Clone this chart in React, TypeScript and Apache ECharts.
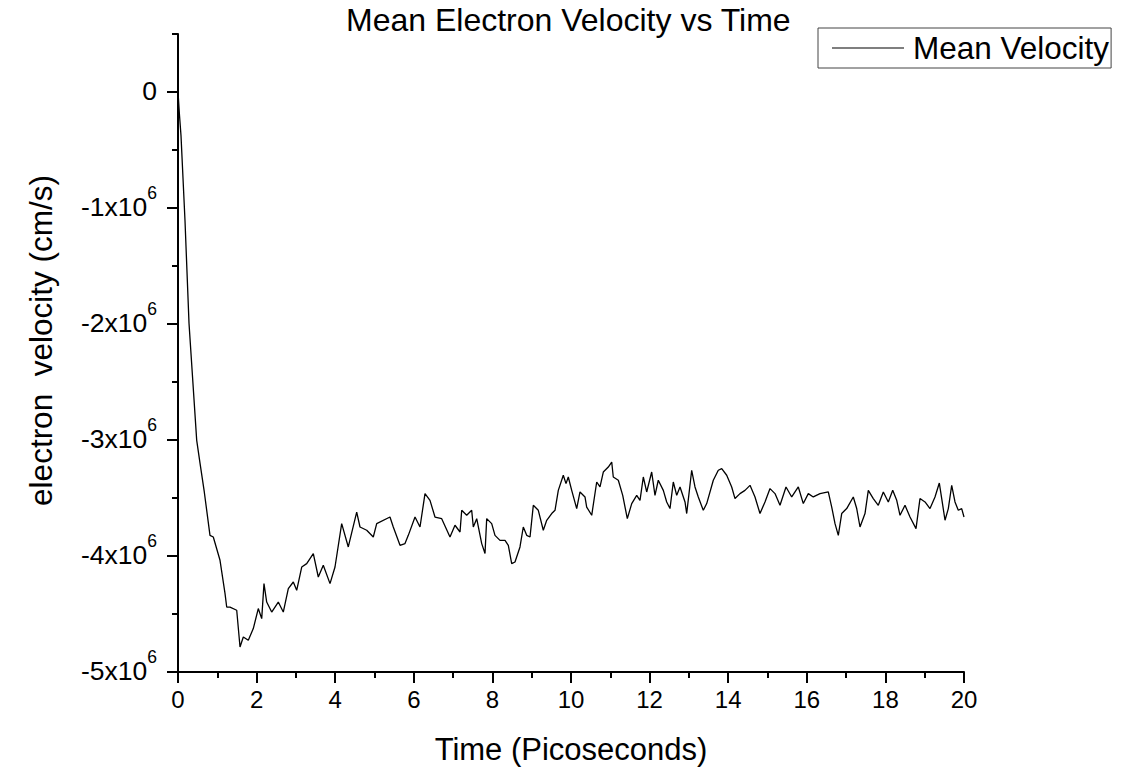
import React, { useEffect, useRef } from "react";
import * as echarts from "echarts";

// Time in picoseconds
const timePs = [
  0, 0.038, 0.076, 0.178, 0.28, 0.476, 0.56, 0.669, 0.814, 0.898, 1.069, 1.196, 1.239, 1.323, 1.494,
  1.578, 1.662, 1.789, 1.916, 2.043, 2.13, 2.188, 2.257, 2.384, 2.552, 2.679, 2.807, 2.934, 3.02,
  3.148, 3.275, 3.443, 3.57, 3.697, 3.868, 3.995, 4.165, 4.333, 4.547, 4.631, 4.802, 4.969, 5.056,
  5.394, 5.478, 5.649, 5.776, 5.86, 6.031, 6.158, 6.285, 6.412, 6.539, 6.71, 6.921, 7.048, 7.176,
  7.219, 7.346, 7.473, 7.514, 7.601, 7.728, 7.812, 7.855, 7.982, 8.066, 8.193, 8.321, 8.405, 8.491,
  8.575, 8.702, 8.786, 8.873, 8.957, 9.041, 9.168, 9.295, 9.382, 9.509, 9.593, 9.677, 9.804, 9.873,
  9.931, 10.018, 10.145, 10.229, 10.356, 10.399, 10.527, 10.654, 10.738, 10.822, 10.949, 11.036,
  11.076, 11.204, 11.316, 11.433, 11.545, 11.672, 11.756, 11.84, 11.926, 12.053, 12.137, 12.221,
  12.349, 12.435, 12.519, 12.603, 12.69, 12.774, 12.901, 12.944, 13.071, 13.155, 13.239, 13.366,
  13.453, 13.621, 13.748, 13.835, 13.962, 14.089, 14.173, 14.3, 14.427, 14.555, 14.682, 14.809,
  14.936, 15.064, 15.191, 15.318, 15.471, 15.616, 15.784, 15.911, 16.038, 16.165, 16.336, 16.547,
  16.634, 16.718, 16.802, 16.888, 17.015, 17.183, 17.27, 17.354, 17.481, 17.565, 17.692, 17.819,
  17.947, 18.074, 18.186, 18.288, 18.372, 18.499, 18.626, 18.779, 18.88, 19.008, 19.135, 19.262,
  19.372, 19.433, 19.517, 19.601, 19.687, 19.771, 19.855, 19.941, 20.0,
];

// Mean electron velocity, in units of 10^6 cm/s
const meanVelocityE6 = [
  0, -0.2, -0.374, -1.108, -1.993, -3.003, -3.2, -3.448, -3.822, -3.836, -4.037, -4.322, -4.44, -4.44,
  -4.468, -4.784, -4.698, -4.727, -4.626, -4.453, -4.54, -4.238, -4.397, -4.483, -4.397, -4.483,
  -4.281, -4.224, -4.296, -4.095, -4.066, -3.979, -4.181, -4.08, -4.238, -4.095, -3.721, -3.922,
  -3.621, -3.75, -3.778, -3.836, -3.721, -3.664, -3.75, -3.908, -3.893, -3.822, -3.664, -3.75,
  -3.462, -3.52, -3.664, -3.678, -3.836, -3.735, -3.793, -3.606, -3.649, -3.606, -3.75, -3.678,
  -3.893, -3.979, -3.678, -3.721, -3.822, -3.865, -3.865, -3.908, -4.066, -4.052, -3.922, -3.75,
  -3.822, -3.836, -3.563, -3.606, -3.778, -3.692, -3.634, -3.606, -3.434, -3.304, -3.376, -3.319,
  -3.434, -3.591, -3.448, -3.491, -3.578, -3.649, -3.362, -3.405, -3.276, -3.233, -3.19, -3.319,
  -3.347, -3.477, -3.678, -3.548, -3.477, -3.52, -3.319, -3.448, -3.276, -3.477, -3.347, -3.434,
  -3.534, -3.591, -3.362, -3.477, -3.405, -3.534, -3.634, -3.261, -3.405, -3.491, -3.606, -3.548,
  -3.347, -3.261, -3.247, -3.304, -3.405, -3.505, -3.462, -3.434, -3.391, -3.491, -3.634, -3.534,
  -3.419, -3.462, -3.563, -3.405, -3.491, -3.405, -3.548, -3.462, -3.491, -3.462, -3.448, -3.578,
  -3.721, -3.822, -3.634, -3.591, -3.491, -3.591, -3.75, -3.634, -3.434, -3.505, -3.563, -3.448,
  -3.534, -3.434, -3.52, -3.649, -3.563, -3.664, -3.764, -3.505, -3.534, -3.591, -3.491, -3.371,
  -3.505, -3.692, -3.591, -3.391, -3.534, -3.606, -3.591, -3.664,
];

const yMajorTicks = [-5e6, -4e6, -3e6, -2e6, -1e6, 0];
const yMinorTicks = [-4.5e6, -3.5e6, -2.5e6, -1.5e6, -0.5e6, 0.5e6];

const TITLE = "Mean Electron Velocity vs Time";
const SERIES_NAME = "Mean Velocity";
const X_NAME = "Time (Picoseconds)";
const Y_NAME = "electron  velocity (cm/s)";

const FONT = "'Liberation Sans', Arial, Helvetica, sans-serif";

export default function App() {
  const ref = useRef<HTMLDivElement>(null);

  useEffect(() => {
    if (!ref.current) return;
    const chart = echarts.init(ref.current, undefined, { renderer: "svg" });
    const data = timePs.map((t, i) => [t, meanVelocityE6[i] * 1e6]);
    const black = "#000";

    chart.setOption({
      animation: false,
      backgroundColor: "#fff",
      textStyle: { fontFamily: FONT, color: black },
      title: {
        text: TITLE,
        left: 346,
        top: 4,
        padding: 0,
        textStyle: { fontFamily: FONT, fontSize: 32, fontWeight: "normal", color: black },
      },
      legend: {
        show: true,
        left: 818,
        top: 28,
        itemWidth: 72,
        itemHeight: 1,
        icon: "rect",
        padding: [4, 2, 4, 14],
        borderColor: "#444",
        borderWidth: 1,
        selectedMode: false,
        textStyle: { fontFamily: FONT, fontSize: 31.5, color: black, padding: [0, 0, 0, 4] },
        data: [SERIES_NAME],
      },
      grid: {
        left: 178,
        right: 160,
        top: 34,
        bottom: 100,
        containLabel: false,
        outerBoundsMode: "none",
        show: false,
      },
      xAxis: {
        type: "value",
        min: 0,
        max: 20,
        interval: 2,
        name: X_NAME,
        nameLocation: "middle",
        nameGap: 62,
        nameTextStyle: { fontFamily: FONT, fontSize: 31, color: black },
        axisLine: { show: true, onZero: false, lineStyle: { color: black, width: 2 } },
        axisTick: { show: true, inside: false, length: 11, lineStyle: { color: black, width: 2 } },
        minorTick: { show: true, splitNumber: 2, length: 6, lineStyle: { color: black, width: 2 } },
        splitLine: { show: false },
        minorSplitLine: { show: false },
        axisLabel: { fontFamily: FONT, fontSize: 24, color: black, margin: 15 },
      },
      yAxis: [
        {
          type: "value",
          min: -5e6,
          max: 0.5e6,
          interval: 1e6,
          position: "left",
          name: Y_NAME,
          nameLocation: "middle",
          nameGap: 121,
          nameTextStyle: { fontFamily: FONT, fontSize: 31.5, color: black, padding: [0, 0, 0, 25] },
          axisLine: { show: true, onZero: false, lineStyle: { color: black, width: 2 } },
          axisTick: {
            show: true,
            inside: false,
            length: 11,
            customValues: yMajorTicks,
            lineStyle: { color: black, width: 2 },
          },
          splitLine: { show: false },
          axisLabel: {
            margin: 21,
            padding: [0, 0, 12, 0],
            customValues: yMajorTicks,
            formatter: (v: number) => {
              const m = Math.round(v / 1e6);
              return m === 0 ? "{b|0}" : `{b|${m}x10}{s|6}`;
            },
            rich: {
              b: { fontFamily: FONT, fontSize: 26.5, lineHeight: 36, verticalAlign: "bottom", color: black },
              s: { fontFamily: FONT, fontSize: 17.5, lineHeight: 17, verticalAlign: "top", color: black },
            },
          },
        },
        {
          type: "value",
          min: -5e6,
          max: 0.5e6,
          interval: 0.5e6,
          position: "left",
          axisLine: { show: false, onZero: false },
          axisTick: {
            show: true,
            inside: false,
            length: 6,
            customValues: yMinorTicks,
            lineStyle: { color: black, width: 2 },
          },
          axisLabel: { show: false },
          splitLine: { show: false },
        },
      ],
      series: [
        {
          name: SERIES_NAME,
          type: "line",
          xAxisIndex: 0,
          yAxisIndex: 0,
          data,
          showSymbol: false,
          symbol: "none",
          silent: true,
          lineStyle: { color: black, width: 1.3 },
          itemStyle: { color: black },
          emphasis: { disabled: true },
        },
      ],
    });

    return () => chart.dispose();
  }, []);

  return (
    <div
      ref={ref}
      style={{ position: "fixed", left: 0, top: 0, width: 1124, height: 772, background: "#fff" }}
    />
  );
}
